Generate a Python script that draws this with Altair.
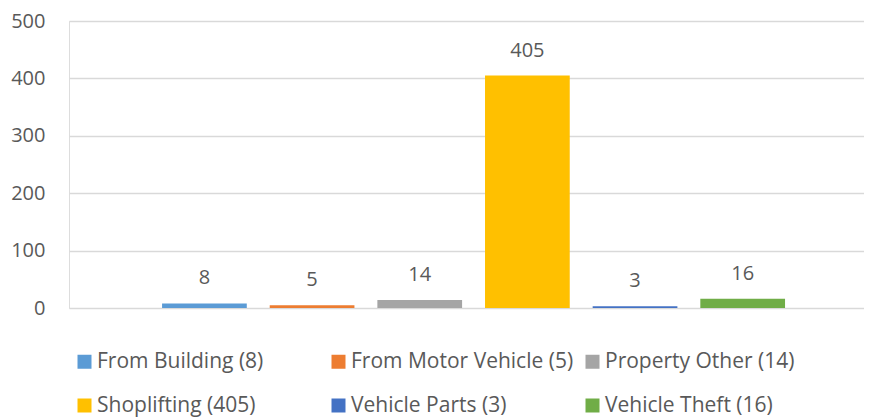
import altair as alt
import pandas as pd

categories = ["From Building", "From Motor Vehicle", "Property Other",
              "Shoplifting", "Vehicle Parts", "Vehicle Theft"]
values = [8, 5, 14, 405, 3, 16]
colors = ["#5B9BD5", "#ED7D31", "#A5A5A5", "#FFC000", "#4472C4", "#70AD47"]
y_ticks = [0, 100, 200, 300, 400, 500]

labels = [f"{c} ({v})" for c, v in zip(categories, values)]
df = pd.DataFrame({"label": labels, "value": values})

FONT = "Open Sans"
TXT = "#595959"

x_enc = alt.X("label:N", sort=labels, axis=None,
              scale=alt.Scale(paddingInner=0.213, paddingOuter=0.799, align=0.541))
y_enc = alt.Y("value:Q",
              scale=alt.Scale(domain=[0, 500], nice=False),
              axis=alt.Axis(values=y_ticks, title=None, domain=False, ticks=False,
                            grid=True, gridColor="#d9d9d9", gridWidth=1.5,
                            labelFont=FONT, labelFontSize=20, labelColor=TXT,
                            labelPadding=24))

bars = alt.Chart(df).mark_bar().encode(
    x=x_enc,
    y=y_enc,
    color=alt.Color("label:N", sort=labels,
                    scale=alt.Scale(domain=labels, range=colors),
                    legend=alt.Legend(title=None, orient="none", legendX=5, legendY=330,
                                      direction="horizontal", columns=3, gridAlign="all",
                                      symbolType="square", symbolSize=196,
                                      symbolStrokeWidth=0, labelFont=FONT,
                                      labelFontSize=21, labelColor=TXT,
                                      labelLimit=500, labelOffset=2,
                                      columnPadding=8, rowPadding=22, padding=0)),
)

text = alt.Chart(df).mark_text(font=FONT, fontSize=20, color=TXT,
                               align="center", baseline="alphabetic", dy=-19).encode(
    x=alt.X("label:N", sort=labels),
    y=alt.Y("value:Q"),
    text=alt.Text("value:Q"),
)

chart = alt.layer(bars, text).properties(
    width=795, height=287,
    autosize=alt.AutoSizeParams(type="none"),
    padding={"left": 61, "top": 13, "right": 0, "bottom": 110},
).configure_view(stroke=None).configure(background="white")

chart.save("out.html", embed_options={"renderer": "svg", "actions": False})
